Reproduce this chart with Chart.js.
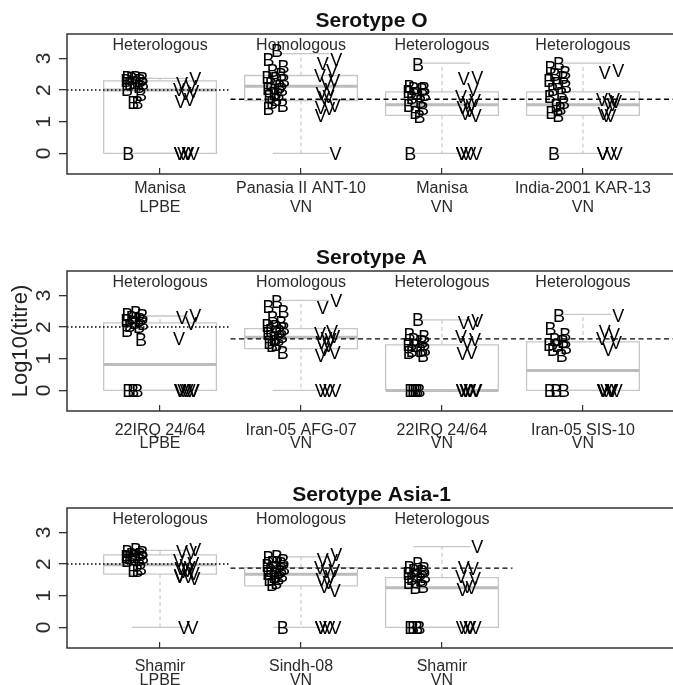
<!DOCTYPE html>
<html><head><meta charset="utf-8">
<script src="https://cdn.jsdelivr.net/npm/chart.js@4.4.1/dist/chart.umd.min.js"></script>
<style>
html,body{margin:0;padding:0;background:#fff;width:673px;height:685px;overflow:hidden;position:relative}
canvas{position:absolute;left:0}
</style></head><body>
<canvas id="cO" width="676" height="237" style="top:0px"></canvas>
<canvas id="cA" width="676" height="237" style="top:237px"></canvas>
<canvas id="cAsia" width="676" height="237" style="top:474px"></canvas>
<script>
// ---------- shared ----------
const yTickValues = [0, 1, 2, 3];
const jitterPattern = [0.01, -0.05, 0.055, -0.02, 0.04, -0.06, 0.0, 0.06, -0.035, 0.03, -0.055, 0.045, -0.01, 0.02, -0.045, 0.005, -0.025, 0.05, -0.05];

// ---------- Serotype O ----------
const titleO = 'Serotype O';
const categoriesO = [['Manisa', 'LPBE'], ['Panasia II ANT-10', 'VN'], ['Manisa', 'VN'], ['India-2001 KAR-13', 'VN']];
const typesO = ['Heterologous', 'Homologous', 'Heterologous', 'Heterologous'];
const whiskerLowO = [0, 0, 0, 0];
const q1O = [0, 1.67, 1.2, 1.2];
const medianO = [2.0, 2.12, 1.54, 1.54];
const q3O = [2.29, 2.46, 1.94, 1.94];
const whiskerHighO = [2.37, 3.15, 2.85, 2.85];
const bValuesO = [
  [2.4, 2.4, 2.35, 2.35, 2.3, 2.3, 2.25, 2.2, 2.2, 2.1, 2.0, 1.85, 1.6, 1.6, 0],
  [3.25, 2.95, 2.75, 2.6, 2.5, 2.4, 2.35, 2.3, 2.2, 2.1, 2.05, 2.0, 1.9, 1.85, 1.8, 1.7, 1.6, 1.5, 1.4],
  [2.8, 2.1, 2.05, 2.05, 2.0, 1.95, 1.9, 1.85, 1.75, 1.65, 1.5, 1.4, 1.3, 1.15, 0],
  [2.85, 2.7, 2.55, 2.5, 2.4, 2.3, 2.2, 2.1, 2.0, 1.9, 1.8, 1.6, 1.5, 1.4, 1.3, 1.2, 0]
];
const vValuesO = [
  [2.35, 2.2, 2.1, 2.0, 1.95, 1.9, 1.7, 1.65, 0, 0, 0, 0, 0, 0],
  [2.95, 2.85, 2.6, 2.45, 2.3, 2.2, 2.0, 1.9, 1.8, 1.75, 1.5, 1.45, 1.4, 1.2, 0],
  [2.4, 2.35, 2.0, 1.8, 1.67, 1.6, 1.5, 1.45, 1.35, 1.25, 1.2, 0, 0, 0, 0, 0],
  [2.6, 2.55, 1.7, 1.7, 1.65, 1.6, 1.55, 1.25, 1.2, 1.2, 0, 0, 0, 0]
];
const lpbeCutoffO = 2.0;
const vnCutoffO = 1.71;

// ---------- Serotype A ----------
const titleA = 'Serotype A';
const categoriesA = [['22IRQ 24/64', 'LPBE'], ['Iran-05 AFG-07', 'VN'], ['22IRQ 24/64', 'VN'], ['Iran-05 SIS-10', 'VN']];
const typesA = ['Heterologous', 'Homologous', 'Heterologous', 'Heterologous'];
const whiskerLowA = [0, 0, 0, 0];
const q1A = [0, 1.32, 0, 0];
const medianA = [0.82, 1.68, 0, 0.63];
const q3A = [2.13, 1.95, 1.44, 1.53];
const whiskerHighA = [2.35, 2.84, 2.23, 2.4];
const bValuesA = [
  [2.45, 2.4, 2.35, 2.3, 2.25, 2.2, 2.15, 2.1, 2.05, 2.0, 1.9, 1.6, 0, 0, 0],
  [2.8, 2.65, 2.5, 2.3, 2.15, 2.05, 2.0, 1.95, 1.9, 1.85, 1.8, 1.7, 1.65, 1.6, 1.5, 1.45, 1.4, 1.2],
  [2.25, 1.75, 1.7, 1.6, 1.55, 1.45, 1.4, 1.3, 1.25, 1.25, 1.2, 1.1, 0, 0, 0, 0, 0],
  [2.35, 1.95, 1.75, 1.6, 1.55, 1.45, 1.4, 1.35, 1.3, 1.1, 0, 0, 0]
];
const vValuesA = [
  [2.35, 2.3, 2.1, 1.65, 0, 0, 0, 0, 0, 0, 0, 0],
  [2.85, 2.6, 1.85, 1.8, 1.7, 1.65, 1.6, 1.5, 1.4, 1.3, 1.2, 1.1, 0, 0, 0, 0],
  [2.2, 2.15, 2.1, 1.7, 1.6, 1.5, 1.2, 1.15, 0, 0, 0, 0, 0, 0, 0, 0],
  [2.35, 1.85, 1.75, 1.65, 1.5, 1.3, 0, 0, 0, 0, 0, 0, 0, 0]
];
const lpbeCutoffA = 2.0;
const vnCutoffA = 1.63;

// ---------- Serotype Asia-1 ----------
const titleAsia = 'Serotype Asia-1';
const categoriesAsia = [['Shamir', 'LPBE'], ['Sindh-08', 'VN'], ['Shamir', 'VN']];
const typesAsia = ['Heterologous', 'Homologous', 'Heterologous'];
const whiskerLowAsia = [0, 0, 0];
const q1Asia = [1.68, 1.31, 0];
const medianAsia = [1.98, 1.68, 1.25];
const q3Asia = [2.29, 1.89, 1.57];
const whiskerHighAsia = [2.43, 2.23, 2.55];
const bValuesAsia = [
  [2.45, 2.4, 2.35, 2.3, 2.3, 2.25, 2.25, 2.2, 2.2, 2.15, 2.1, 1.85, 1.8, 1.8],
  [2.25, 2.2, 2.1, 2.05, 2.0, 1.95, 1.9, 1.85, 1.8, 1.75, 1.7, 1.65, 1.6, 1.55, 1.5, 1.4, 1.35, 0],
  [2.0, 1.9, 1.85, 1.8, 1.75, 1.7, 1.65, 1.6, 1.55, 1.5, 1.4, 1.3, 1.25, 0, 0, 0, 0]
];
const vValuesAsia = [
  [2.45, 2.4, 2.35, 2.1, 2.0, 1.95, 1.9, 1.85, 1.8, 1.75, 1.7, 1.65, 1.6, 1.6, 1.55, 0, 0],
  [2.3, 2.15, 2.1, 1.9, 1.8, 1.75, 1.6, 1.5, 1.4, 1.3, 1.15, 0, 0, 0, 0, 0],
  [2.55, 1.9, 1.85, 1.6, 1.55, 1.3, 1.25, 1.2, 0, 0, 0, 0, 0]
];
const lpbeCutoffAsia = 2.0;
const vnCutoffAsia = 1.87;

// ---------- drawing ----------
const FONT = '"Liberation Sans", Arial, Helvetica, sans-serif';
Chart.defaults.font.family = FONT;
const X_MIN = 0.34, X_MAX = 4.66, Y_MIN = -0.65, Y_MAX = 3.77;
const BOX_HALF = 0.4, CAP_HALF = 0.2, B_OFF = -0.18, V_OFF = 0.19;
const GREY = '#c6c6c6';

const lettersPlugin = {
  id: 'letters',
  afterDatasetsDraw(chart) {
    const ctx = chart.ctx;
    ctx.save();
    ctx.font = '18px ' + FONT;
    ctx.fillStyle = '#000';
    ctx.textAlign = 'center';
    ctx.textBaseline = 'alphabetic';
    chart.data.datasets.forEach((ds, di) => {
      if (!ds.letter) return;
      chart.getDatasetMeta(di).data.forEach(el => {
        ctx.fillText(ds.letter, el.x, el.y + 6.4);
      });
    });
    ctx.restore();
  }
};
const typeLabelPlugin = {
  id: 'typeLabels',
  afterDatasetsDraw(chart, args, opts) {
    const ctx = chart.ctx, xs = chart.scales.x, ys = chart.scales.y;
    ctx.save();
    ctx.font = '16px ' + FONT;
    ctx.fillStyle = '#2a2a2a';
    ctx.textAlign = 'center';
    ctx.textBaseline = 'alphabetic';
    (opts.labels || []).forEach((t, i) => {
      ctx.fillText(t, xs.getPixelForValue(i + 1), ys.getPixelForValue(opts.level) + 5.7);
    });
    ctx.restore();
  }
};
const framePlugin = {
  id: 'frame',
  afterDraw(chart) {
    const a = chart.chartArea, ctx = chart.ctx;
    ctx.save();
    ctx.strokeStyle = '#333';
    ctx.lineWidth = 1.5;
    ctx.strokeRect(a.left, a.top, a.right - a.left, a.bottom - a.top);
    ctx.restore();
  }
};

function buildChart(id, p) {
  const n = p.categories.length;
  const boxPts = [], medPts = [], whiskPts = [], capPts = [], bPts = [], vPts = [];
  for (let i = 0; i < n; i++) {
    const x = i + 1;
    boxPts.push({x: x - BOX_HALF, y: p.q1[i]}, {x: x + BOX_HALF, y: p.q1[i]}, {x: x + BOX_HALF, y: p.q3[i]},
                {x: x - BOX_HALF, y: p.q3[i]}, {x: x - BOX_HALF, y: p.q1[i]}, {x: x, y: null});
    medPts.push({x: x - BOX_HALF, y: p.med[i]}, {x: x + BOX_HALF, y: p.med[i]}, {x: x, y: null});
    if (p.wHi[i] > p.q3[i]) whiskPts.push({x: x, y: p.q3[i]}, {x: x, y: p.wHi[i]}, {x: x, y: null});
    if (p.wLo[i] < p.q1[i]) whiskPts.push({x: x, y: p.q1[i]}, {x: x, y: p.wLo[i]}, {x: x, y: null});
    capPts.push({x: x - CAP_HALF, y: p.wHi[i]}, {x: x + CAP_HALF, y: p.wHi[i]}, {x: x, y: null},
                {x: x - CAP_HALF, y: p.wLo[i]}, {x: x + CAP_HALF, y: p.wLo[i]}, {x: x, y: null});
    p.b[i].forEach((v, j) => bPts.push({x: x + B_OFF + jitterPattern[j % jitterPattern.length], y: v}));
    p.v[i].forEach((v, j) => vPts.push({x: x + V_OFF + jitterPattern[(j + 7) % jitterPattern.length], y: v}));
  }
  const lineDs = (label, data, color, width, dash, order) => ({
    label, data, showLine: true, borderColor: color, borderWidth: width, borderDash: dash,
    borderCapStyle: 'butt', pointRadius: 0, pointHoverRadius: 0, fill: false, tension: 0, spanGaps: false, order
  });
  return new Chart(document.getElementById(id), {
    type: 'scatter',
    data: {
      datasets: [
        {label: 'B', letter: 'B', data: bPts, pointRadius: 0, pointHoverRadius: 0, showLine: false, order: 0},
        {label: 'V', letter: 'V', data: vPts, pointRadius: 0, pointHoverRadius: 0, showLine: false, order: 0},
        lineDs('LPBE cut-off', [{x: X_MIN, y: p.dotted}, {x: 1.5, y: p.dotted}], '#000', 1.6, [1.5, 2.5], 1),
        lineDs('VN cut-off', [{x: 1.5, y: p.dashed}, {x: p.dashedEnd, y: p.dashed}], '#000', 1.3, [5, 3.5], 1),
        lineDs('caps', capPts, GREY, 1.3, [], 2),
        lineDs('whiskers', whiskPts, GREY, 1.1, [4, 3], 2),
        lineDs('medians', medPts, '#bcbcbc', 3, [], 3),
        lineDs('boxes', boxPts, GREY, 1.3, [], 4)
      ]
    },
    options: {
      responsive: false,
      animation: false,
      devicePixelRatio: 1,
      events: [],
      layout: {padding: 0},
      plugins: {
        legend: {display: false},
        tooltip: {enabled: false},
        title: {display: true, text: p.title, fullSize: false, color: '#111',
                font: {size: 21, weight: 'bold', lineHeight: 1.2}, padding: {top: 8.8, bottom: 0}},
        typeLabels: {labels: p.types, level: 3.44}
      },
      scales: {
        x: {
          type: 'linear', min: X_MIN, max: X_MAX,
          afterBuildTicks: s => { s.ticks = p.categories.map((c, i) => ({value: i + 1})); },
          afterFit: s => { s.height = 63; },
          border: {display: false},
          grid: {display: true, drawOnChartArea: false, drawTicks: true, tickLength: -6, color: '#333', lineWidth: 1.2},
          ticks: {autoSkip: false, maxRotation: 0, minRotation: 0, color: '#2a2a2a', padding: p.tickPad,
                  font: {size: 16, lineHeight: p.tickLH / 16},
                  callback: v => p.categories[Math.round(v) - 1] || ''}
        },
        y: {
          type: 'linear', min: Y_MIN, max: Y_MAX,
          afterBuildTicks: s => { s.ticks = yTickValues.map(v => ({value: v})); },
          afterFit: s => { s.width = 67; },
          border: {display: false},
          grid: {display: true, drawOnChartArea: false, drawTicks: true, tickLength: 8, color: '#333', lineWidth: 1.3},
          ticks: {minRotation: 90, maxRotation: 90, crossAlign: 'center', padding: 9.2, color: '#2a2a2a',
                  font: {size: 21}, callback: v => String(v)},
          title: {display: !!p.yTitle, text: p.yTitle || '', color: '#222', font: {size: 22, lineHeight: 1.2},
                  padding: {top: 8, bottom: 0}}
        }
      }
    },
    plugins: [typeLabelPlugin, lettersPlugin, framePlugin]
  });
}

buildChart('cO', {title: titleO, categories: categoriesO, types: typesO, wLo: whiskerLowO, q1: q1O, med: medianO,
  q3: q3O, wHi: whiskerHighO, b: bValuesO, v: vValuesO, dotted: lpbeCutoffO, dashed: vnCutoffO, dashedEnd: X_MAX,
  tickPad: 11, tickLH: 19});
buildChart('cA', {title: titleA, categories: categoriesA, types: typesA, wLo: whiskerLowA, q1: q1A, med: medianA,
  q3: q3A, wHi: whiskerHighA, b: bValuesA, v: vValuesA, dotted: lpbeCutoffA, dashed: vnCutoffA, dashedEnd: X_MAX,
  tickPad: 19.5, tickLH: 12.5, yTitle: 'Log10(titre)'});
buildChart('cAsia', {title: titleAsia, categories: categoriesAsia, types: typesAsia, wLo: whiskerLowAsia, q1: q1Asia,
  med: medianAsia, q3: q3Asia, wHi: whiskerHighAsia, b: bValuesAsia, v: vValuesAsia, dotted: lpbeCutoffAsia,
  dashed: vnCutoffAsia, dashedEnd: 3.5, tickPad: 17.7, tickLH: 14});
</script>
</body></html>
